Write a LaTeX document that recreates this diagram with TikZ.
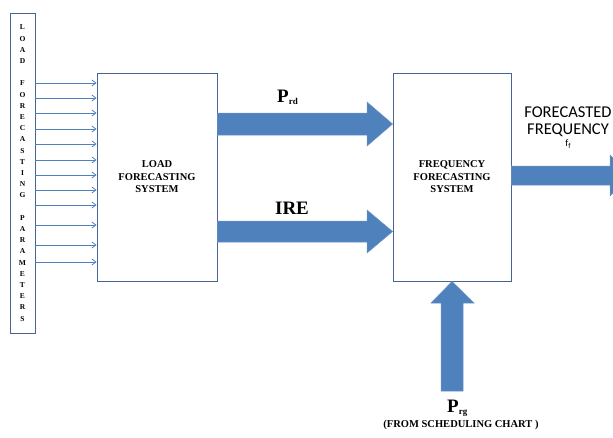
\documentclass[tikz,border=0pt]{standalone}
\usepackage{fontspec}
\setmainfont{Liberation Serif}
\newfontfamily\calibfont{Carlito}
\usetikzlibrary{arrows.meta}
\definecolor{arrowblue}{RGB}{79,129,189}
\definecolor{boxline}{RGB}{72,100,150}
\newcommand\powsym[2]{{\fontsize{19}{19}\selectfont\bfseries #1}\raisebox{-2.5pt}{\fontsize{9}{9}\selectfont\bfseries #2}}
\tikzset{
  sysbox/.style={draw=boxline,line width=0.9pt,fill=white,minimum width=120,minimum height=208,
    inner sep=0,align=center,font=\fontsize{10.5}{12.5}\selectfont\bfseries},
  parbox/.style={draw=boxline,line width=0.9pt,minimum width=25,minimum height=320,
    inner sep=0,align=center,font=\fontsize{7.5}{11.2}\selectfont\bfseries},
  inarrow/.style={draw=arrowblue,line width=0.8pt,-{Straight Barb[length=4pt,width=6pt]}},
  blockarrow/.style={fill=arrowblue,draw=arrowblue!85!white,line width=0.5pt},
}
\begin{document}
\begin{tikzpicture}[x=1pt,y=-1pt]
	\useasboundingbox (0,0) rectangle (613,437);
	\node[parbox] (params) at (22.5,173) {L\\O\\A\\D\\[11.2pt]F\\O\\R\\E\\C\\A\\S\\T\\I\\N\\G\\[11.2pt]P\\A\\R\\A\\M\\E\\T\\E\\R\\S};
	\node[sysbox] (load) at (157,177) {LOAD\\FORECASTING\\SYSTEM};
	\node[sysbox,minimum width=118] (freq) at (452,177) {FREQUENCY\\FORECASTING\\SYSTEM};
	% parameters into the load forecaster
	\foreach \y in {83,98,113,129,144,160,175,190,205,225,245,262}
		\draw[inarrow] (params.east |- 0,\y) -- (load.west |- 0,\y);
	% block arrows
	\draw[blockarrow] (load.east |- 0,113) -- (367,113) -- (367,102) -- (freq.west |- 0,124)
		-- (367,146) -- (367,135) -- (load.east |- 0,135) -- cycle;
	\draw[blockarrow] (load.east |- 0,221) -- (367,221) -- (367,210) -- (freq.west |- 0,231.5)
		-- (367,253) -- (367,242) -- (load.east |- 0,242) -- cycle;
	\draw[blockarrow] (freq.east |- 0,166) -- (610,166) -- (610,155) -- (631,175.5)
		-- (610,196) -- (610,185) -- (freq.east |- 0,185) -- cycle;
	\draw[blockarrow] (freq.south) -- (474,303) -- (463,303) -- (463,391) -- (441,391)
		-- (441,303) -- (431,303) -- cycle;
	% labels
	\node[anchor=base west,inner sep=0] (prd) at (277,102) {\powsym{P}{rd}};
	\node[anchor=base,inner sep=0,font=\fontsize{19}{19}\selectfont\bfseries] (ire) at (292,214) {IRE};
	\node[anchor=base west,inner sep=0] (prg) at (447,412) {\powsym{P}{rg}};
	\node[anchor=base,inner sep=0,font=\fontsize{10.5}{10.5}\selectfont\bfseries] (sched) at (461,427) {(FROM SCHEDULING CHART )};
	\node[anchor=base,inner sep=0,font=\calibfont\fontsize{16.5}{17}\selectfont] (fc1) at (568,117) {FORECASTED};
	\node[anchor=base,inner sep=0,font=\calibfont\fontsize{16.5}{17}\selectfont] (fc2) at (568,134) {FREQUENCY};
	\node[anchor=base,inner sep=0,font=\calibfont\fontsize{10}{10}\selectfont] (ff) at (568,146.5) {f\raisebox{-2pt}{\fontsize{7.5}{7.5}\selectfont f}};
\end{tikzpicture}
\end{document}
